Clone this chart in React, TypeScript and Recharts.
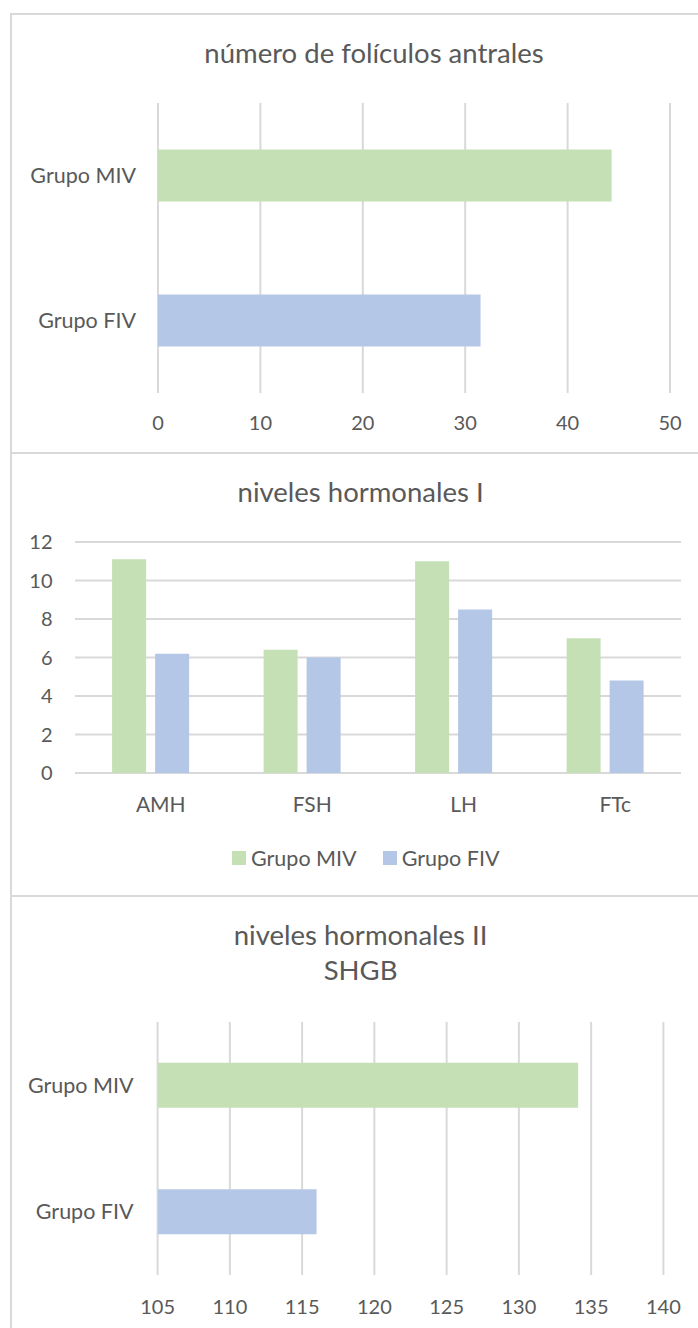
import React from 'react';
import { BarChart, Bar, XAxis, YAxis, CartesianGrid, Cell, Legend } from 'recharts';

// Groups and their colours
const groups = ['Grupo MIV', 'Grupo FIV'];
const groupColors = ['#C5E0B4', '#B4C7E7'];

// Antral follicle count per group
const antralValues = [44.3, 31.5];
const antralTicks = [0, 10, 20, 30, 40, 50];

// Hormone levels I
const hormoneNames = ['AMH', 'FSH', 'LH', 'FTc'];
const hormoneMIV = [11.1, 6.4, 11.0, 7.0];
const hormoneFIV = [6.2, 6.0, 8.5, 4.8];
const hormoneTicks = [0, 2, 4, 6, 8, 10, 12];

// Hormone levels II (SHGB)
const shgbValues = [134.1, 116.0];
const shgbTicks = [105, 110, 115, 120, 125, 130, 135, 140];

const antralData = groups.map((g, i) => ({ group: g, value: antralValues[i] }));
const hormoneData = hormoneNames.map((n, i) => ({ name: n, miv: hormoneMIV[i], fiv: hormoneFIV[i] }));
const shgbData = groups.map((g, i) => ({ group: g, value: shgbValues[i] }));

const FONT = 'Lato, "Noto Sans", sans-serif';
const TEXT = '#595959';
const GRID = '#d9d9d9';
const NUM_SIZE = 20;
const LABEL_SIZE = 21.5;
const TITLE_SIZE = 27.5;

const numTick = { fill: TEXT, fontSize: NUM_SIZE, fontFamily: FONT };
const labelTick = { fill: TEXT, fontSize: LABEL_SIZE, fontFamily: FONT };

const frame = (top: number, height: number): React.CSSProperties => ({
  position: 'absolute',
  left: 10,
  top,
  width: 760,
  height,
  border: `2px solid ${GRID}`,
  boxSizing: 'border-box',
});

const titleStyle = (centerX: number, top: number): React.CSSProperties => ({
  position: 'absolute',
  left: centerX - 300,
  width: 600,
  top,
  textAlign: 'center',
  fontFamily: FONT,
  fontSize: TITLE_SIZE,
  lineHeight: '35px',
  color: TEXT,
  whiteSpace: 'pre',
});

const LegendContent = (props: any) => {
  const items = [...(props.payload || [])].sort(
    (a: any, b: any) => groups.indexOf(a.value) - groups.indexOf(b.value)
  );
  return (
    <div style={{ display: 'flex', alignItems: 'center', fontFamily: FONT, fontSize: LABEL_SIZE, color: TEXT, lineHeight: '24px' }}>
      {items.map((it: any, i: number) => (
        <div key={i} style={{ display: 'flex', alignItems: 'center', marginRight: i === 0 ? 26 : 0 }}>
          <span style={{ display: 'inline-block', width: 14, height: 14, background: it.color, marginRight: 5 }} />
          <span>{it.value}</span>
        </div>
      ))}
    </div>
  );
};

export default function App() {
  return (
    <div style={{ position: 'absolute', left: 0, top: 0, width: 698, height: 1328, overflow: 'hidden', background: '#fff' }}>
      <div style={frame(13, 441)} />
      <div style={frame(452, 445)} />
      <div style={frame(895, 500)} />

      <div style={titleStyle(374, 35.2)}>número de folículos antrales</div>
      <div style={titleStyle(360.6, 473.6)}>niveles hormonales I</div>
      <div style={titleStyle(360.6, 916.9)}>{'niveles hormonales II\nSHGB'}</div>

      {/* Antral follicles: horizontal bars */}
      <div style={{ position: 'absolute', left: 0, top: 0 }}>
        <BarChart
          layout="vertical"
          width={698}
          height={453}
          data={antralData}
          margin={{ top: 103, right: 28, bottom: 0, left: 0 }}
          barCategoryGap="32%"
        >
          <CartesianGrid horizontal={false} stroke={GRID} strokeWidth={2} />
          <XAxis
            type="number"
            domain={[0, 50]}
            ticks={antralTicks}
            interval={0}
            axisLine={false}
            tickLine={false}
            tickSize={0}
            tickMargin={23}
            height={60}
            tick={numTick}
          />
          <YAxis
            type="category"
            dataKey="group"
            width={158}
            axisLine={false}
            tickLine={false}
            tickSize={0}
            tickMargin={22}
            tick={labelTick}
          />
          <Bar dataKey="value" isAnimationActive={false}>
            {antralData.map((d, i) => (
              <Cell key={d.group} fill={groupColors[i]} />
            ))}
          </Bar>
        </BarChart>
      </div>

      {/* Hormone levels I: grouped columns */}
      <div style={{ position: 'absolute', left: 0, top: 453 }}>
        <BarChart
          width={698}
          height={443}
          data={hormoneData}
          margin={{ top: 89, right: 17, bottom: 0, left: 0 }}
          barCategoryGap="24.5%"
          barGap={9}
        >
          <CartesianGrid vertical={false} stroke={GRID} strokeWidth={2} />
          <XAxis
            dataKey="name"
            axisLine={false}
            tickLine={false}
            tickSize={0}
            tickMargin={24.5}
            height={123}
            tick={{ ...labelTick, fontSize: 21, dx: 10 }}
          />
          <YAxis
            type="number"
            domain={[0, 12]}
            ticks={hormoneTicks}
            interval={0}
            width={75}
            axisLine={false}
            tickLine={false}
            tickSize={0}
            tickMargin={22.5}
            tick={numTick}
          />
          <Legend
            layout="horizontal"
            verticalAlign="middle"
            align="center"
            wrapperStyle={{ left: 232, top: 392.7, width: 'auto' }}
            content={<LegendContent />}
          />
          <Bar dataKey="miv" name={groups[0]} fill={groupColors[0]} isAnimationActive={false} />
          <Bar dataKey="fiv" name={groups[1]} fill={groupColors[1]} isAnimationActive={false} />
        </BarChart>
      </div>

      {/* Hormone levels II (SHGB): horizontal bars */}
      <div style={{ position: 'absolute', left: 0, top: 896 }}>
        <BarChart
          layout="vertical"
          width={698}
          height={432}
          data={shgbData}
          margin={{ top: 126, right: 34.6, bottom: 0, left: 0 }}
          barCategoryGap="32.3%"
        >
          <CartesianGrid horizontal={false} stroke={GRID} strokeWidth={2} />
          <XAxis
            type="number"
            domain={[105, 140]}
            ticks={shgbTicks}
            interval={0}
            allowDataOverflow
            axisLine={false}
            tickLine={false}
            tickSize={0}
            tickMargin={24.5}
            height={53}
            tick={numTick}
          />
          <YAxis
            type="category"
            dataKey="group"
            width={157.6}
            axisLine={false}
            tickLine={false}
            tickSize={0}
            tickMargin={24}
            tick={labelTick}
          />
          <Bar dataKey="value" isAnimationActive={false}>
            {shgbData.map((d, i) => (
              <Cell key={d.group} fill={groupColors[i]} />
            ))}
          </Bar>
        </BarChart>
      </div>
    </div>
  );
}
